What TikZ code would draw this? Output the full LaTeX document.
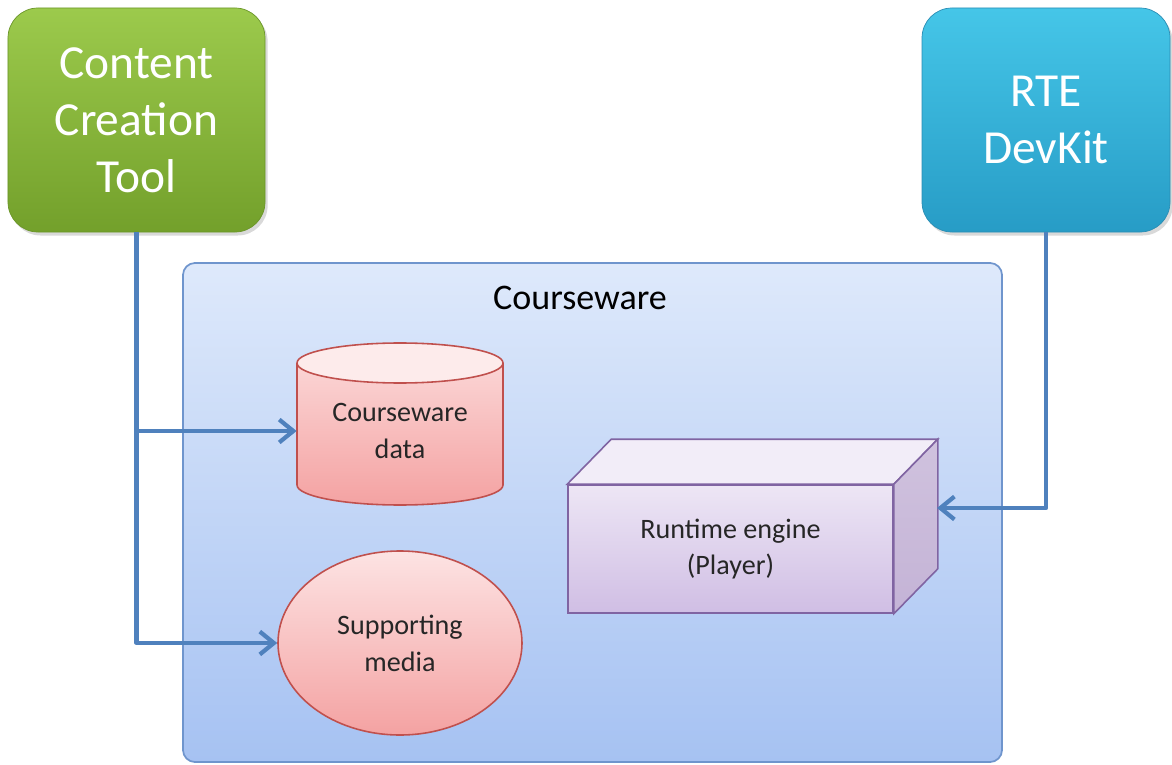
\documentclass[tikz,border=0pt]{standalone}
\usepackage{fontspec}
\setmainfont{Carlito}
\usetikzlibrary{arrows.meta,shapes.geometric,shadows}
\definecolor{greentop}{HTML}{9CCA4C}
\definecolor{greenbot}{HTML}{73A02B}
\definecolor{greenline}{HTML}{6A9528}
\definecolor{cyantop}{HTML}{45C6E8}
\definecolor{cyanbot}{HTML}{279CC6}
\definecolor{cyanline}{HTML}{2A8DB4}
\definecolor{cwtop}{HTML}{DEE9FB}
\definecolor{cwbot}{HTML}{A6C2F2}
\definecolor{cwline}{HTML}{6F95CD}
\definecolor{redtop}{HTML}{FCDCDC}
\definecolor{redbot}{HTML}{F4A2A2}
\definecolor{redcap}{HTML}{FDEBEB}
\definecolor{redline}{HTML}{C0504D}
\definecolor{purptop}{HTML}{EDE6F5}
\definecolor{purpbot}{HTML}{D0BEE4}
\definecolor{purpside}{HTML}{C4B3D6}
\definecolor{purpline}{HTML}{8064A2}
\definecolor{arrowblue}{HTML}{4F81BD}

\begin{document}
\begin{tikzpicture}[x=0.2mm,y=0.2mm,
    bigbox/.style={rectangle, rounded corners=0.6cm, minimum height=4.48cm,
        text=white, align=center, font=\fontsize{27}{32.5}\selectfont,
        drop shadow={opacity=0.3,shadow xshift=1.5pt,shadow yshift=-2pt}},
    inner/.style={align=center, text=black!85, font=\fontsize{16}{21}\selectfont},
    redshape/.style={draw=redline, line width=0.9pt},
    face/.style={draw=purpline, line width=0.9pt},
    flow/.style={draw=arrowblue, line width=2.4pt, line join=round,
        -{Straight Barb[length=8pt,width=13pt]}}]

    \useasboundingbox (0,0) rectangle (1172,764);

    \node[bigbox, minimum width=5.14cm, draw=greenline, top color=greentop, bottom color=greenbot]
        (tool) at (136.5,644) {Content\\Creation\\Tool};
    \node[bigbox, minimum width=4.96cm, draw=cyanline, top color=cyantop, bottom color=cyanbot]
        (devkit) at (1046,644) {RTE\\DevKit};

    \node[draw=cwline, line width=1pt, rounded corners=0.24cm, top color=cwtop, bottom color=cwbot,
        minimum width=16.38cm, minimum height=9.98cm] (cw) at (592.5,251.5) {};
    \node[font=\fontsize{20.5}{24}\selectfont] (cwtitle) at (580,466) {Courseware};

    \shade[top color=redtop, bottom color=redbot] (297,401) -- (297,279)
        arc[start angle=180, end angle=360, x radius=103, y radius=20] -- (503,401)
        arc[start angle=0, end angle=180, x radius=103, y radius=20] -- cycle;
    \draw[redshape] (297,401) -- (297,279)
        arc[start angle=180, end angle=360, x radius=103, y radius=20] -- (503,401);
    \draw[redshape, fill=redcap] (400,401) ellipse [x radius=103, y radius=20];
    \node[inner, inner sep=0pt, minimum width=4.12cm] (cwdata) at (400,333) {Courseware\\data};

    \node[redshape, ellipse, inner sep=0pt, minimum width=4.88cm, minimum height=3.68cm,
        top color=redtop!80!white, bottom color=redbot, inner] (media) at (400,121) {Supporting\\media};

    \node[face, rectangle, minimum width=6.5cm, minimum height=2.56cm, top color=purptop, bottom color=purpbot,
        inner] (player) at (730.5,215) {Runtime engine\\(Player)};
    \draw[face, fill=purptop!70!white] (player.north west) -- ++(44,45)
        -- ([shift={(44,45)}]player.north east) -- (player.north east) -- cycle;
    \draw[face, top color=purpside!80!white, bottom color=purpside] (player.north east) -- ++(44,45)
        -- ([shift={(44,45)}]player.south east) -- (player.south east) -- cycle;
    \coordinate (side) at (937,256);

    \draw[flow] (tool.south) |- (media.west);
    \draw[flow] (tool.south |- cwdata.west) -- (cwdata.west);
    \draw[flow] (devkit.south) |- (side);
\end{tikzpicture}
\end{document}
